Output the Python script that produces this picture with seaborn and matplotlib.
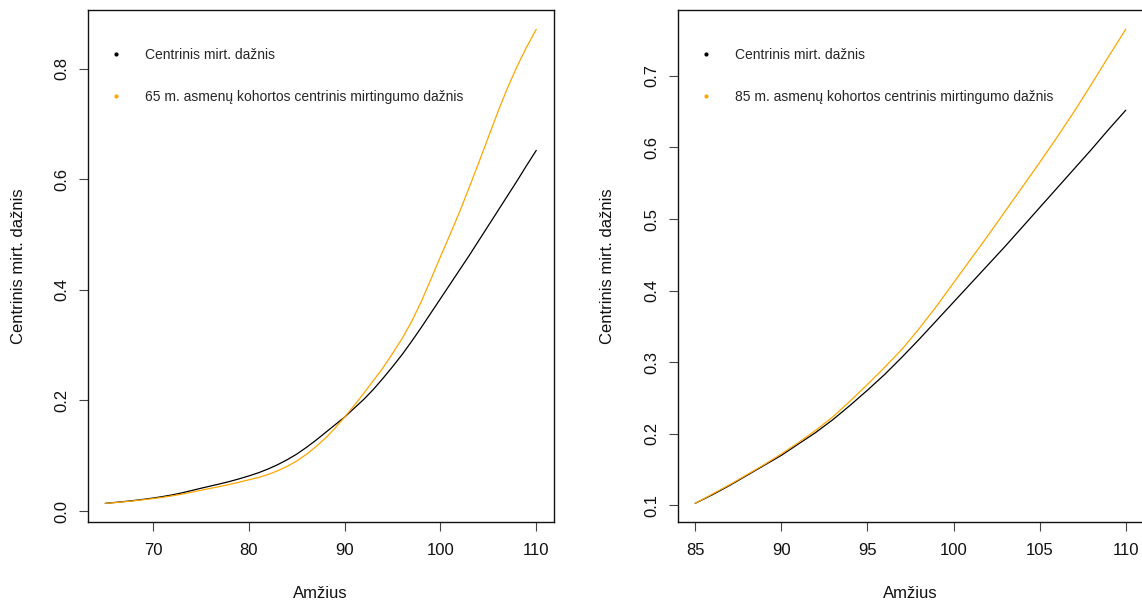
import matplotlib
matplotlib.use("Agg")
import matplotlib.pyplot as plt
from matplotlib.lines import Line2D
import pandas as pd
import seaborn as sns

# Central death rate by age (period), ages 65-110
ages = list(range(65, 111))
central_rate = [
    0.0139, 0.0155, 0.0172, 0.0190, 0.0212, 0.0235, 0.0262, 0.0292, 0.0328, 0.0370,
    0.0412, 0.0452, 0.0492, 0.0535, 0.0583, 0.0635, 0.0692, 0.0760, 0.0838, 0.0928,
    0.103, 0.115, 0.128, 0.142, 0.156, 0.170, 0.186, 0.202, 0.220, 0.240,
    0.261, 0.283, 0.307, 0.332, 0.358, 0.384, 0.410, 0.436, 0.462, 0.489,
    0.516, 0.543, 0.570, 0.597, 0.625, 0.652,
]

# Cohort central death rate for persons aged 65, ages 65-110
cohort65_rate = [
    0.0139, 0.0152, 0.0168, 0.0185, 0.0205, 0.0225, 0.0248, 0.0275, 0.0305, 0.0340,
    0.0376, 0.0410, 0.0445, 0.0482, 0.0522, 0.0565, 0.0607, 0.0660, 0.0728, 0.0808,
    0.0905, 0.1025, 0.1165, 0.1320, 0.1500, 0.1700, 0.1910, 0.2130, 0.2360, 0.2590,
    0.2850, 0.3120, 0.3430, 0.3790, 0.4190, 0.4600, 0.5000, 0.5410, 0.5850, 0.6300,
    0.6760, 0.7220, 0.7650, 0.8040, 0.8390, 0.8710,
]

# Cohort central death rate for persons aged 85, ages 85-110
ages85 = list(range(85, 111))
cohort85_rate = [
    0.103, 0.116, 0.129, 0.143, 0.157, 0.172, 0.188, 0.205, 0.224, 0.246,
    0.269, 0.293, 0.318, 0.347, 0.378, 0.411, 0.444, 0.477, 0.511, 0.545,
    0.579, 0.614, 0.650, 0.688, 0.727, 0.765,
]

left_xticks = [70, 80, 90, 100, 110]
left_yticks = [0.0, 0.2, 0.4, 0.6, 0.8]
right_xticks = [85, 90, 95, 100, 105, 110]
right_yticks = [0.1, 0.2, 0.3, 0.4, 0.5, 0.6, 0.7]

label_period = "Centrinis mirt. dažnis"
label_c65 = "65 m. asmenų kohortos centrinis mirtingumo dažnis"
label_c85 = "85 m. asmenų kohortos centrinis mirtingumo dažnis"
x_title = "Amžius"
y_title = "Centrinis mirt. dažnis"

BLACK = "#000000"
ORANGE = "#FFA500"

sns.set_theme(style="white")
plt.rcParams["font.family"] = ["Liberation Sans", "DejaVu Sans"]

fig = plt.figure(figsize=(11.42, 6.04), dpi=100)
ax1 = fig.add_axes([0.07706, 0.13526, 0.40762, 0.84768])
ax2 = fig.add_axes([0.59370, 0.13526, 0.40718, 0.84768])

df_left = pd.DataFrame({
    "age": ages + ages,
    "rate": central_rate + cohort65_rate,
    "series": [label_period] * len(ages) + [label_c65] * len(ages),
})
offset = ages.index(85)
df_right = pd.DataFrame({
    "age": ages85 + ages85,
    "rate": central_rate[offset:] + cohort85_rate,
    "series": [label_period] * len(ages85) + [label_c85] * len(ages85),
})


def draw_panel(ax, df, c_label, xticks, yticks, ylab_x):
    sns.lineplot(data=df, x="age", y="rate", hue="series",
                 palette={label_period: BLACK, c_label: ORANGE},
                 linewidth=0.9, legend=False, ax=ax, estimator=None,
                 sort=False)
    ax.margins(x=0.04, y=0.04)
    ax.set_xticks(xticks)
    ax.set_yticks(yticks)
    ax.set_xticklabels([str(t) for t in xticks])
    ax.set_yticklabels([f"{t:.1f}" for t in yticks], rotation=90, va="center")
    ax.tick_params(axis="both", direction="out", length=6.5, width=0.8,
                   color="#444444", labelsize=12, labelcolor="#111111",
                   bottom=True, left=True)
    ax.tick_params(axis="x", pad=8.3)
    ax.tick_params(axis="y", pad=7)
    for sp in ax.spines.values():
        sp.set_visible(True)
        sp.set_color("#111111")
        sp.set_linewidth(1.0)
    ax.set_xlabel(x_title, fontsize=12, color="#111111")
    ax.set_ylabel(y_title, fontsize=12, color="#111111")
    ax.xaxis.set_label_coords(0.5, -0.1381)
    ax.xaxis.label.set_verticalalignment("center")
    ax.yaxis.set_label_coords(ylab_x, 0.5)
    ax.yaxis.label.set_verticalalignment("center")
    ax.grid(False)

    handles = [
        Line2D([], [], linestyle="none", marker="o", markersize=3.0,
               color=BLACK, markeredgewidth=0),
        Line2D([], [], linestyle="none", marker="o", markersize=3.0,
               color=ORANGE, markeredgewidth=0),
    ]
    ax.legend(handles, [label_period, c_label], loc="upper left",
              bbox_to_anchor=(0.0445, 0.926), frameon=False, fontsize=10,
              handlelength=1.0, handletextpad=1.6, labelspacing=2.0,
              borderpad=0, borderaxespad=0)


draw_panel(ax1, df_left, label_c65, left_xticks, left_yticks, -0.1493)
draw_panel(ax2, df_right, label_c85, right_xticks, right_yticks, -0.1514)

fig.savefig("out.png", dpi=100)
